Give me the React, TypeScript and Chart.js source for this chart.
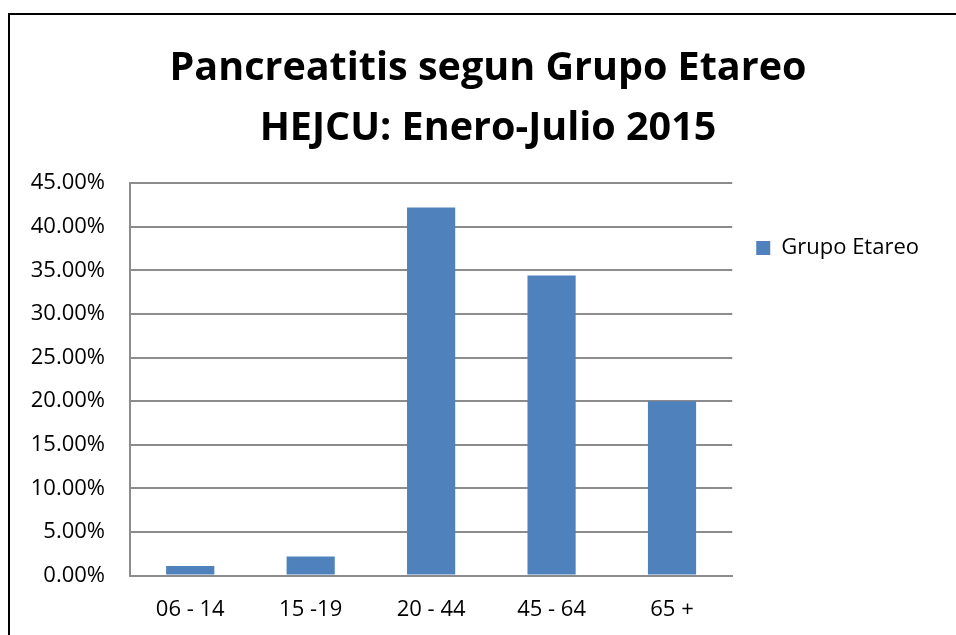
import React, { useEffect, useRef } from "react";
import { Chart, registerables } from "chart.js";

Chart.register(...registerables);

const categories = ["06 - 14", "15 -19", "20 - 44", "45 - 64", "65 +"];
const grupoEtareo = [0.011, 0.022, 0.422, 0.344, 0.2];
const seriesName = "Grupo Etareo";
const titleLines = ["Pancreatitis segun Grupo Etareo", "HEJCU: Enero-Julio 2015"];
const yMax = 0.45;
const yStep = 0.05;

const frame = {
  id: "frame",
  afterLayout(chart: any) {
    // let the y tick labels use the space left of the axis box
    chart.scales.y.left = 0;
  },
  afterDraw(chart: any) {
    const ctx = chart.ctx;
    ctx.save();
    ctx.strokeStyle = "#000";
    ctx.lineWidth = 2;
    ctx.beginPath();
    ctx.moveTo(9, chart.height);
    ctx.lineTo(9, 14);
    ctx.lineTo(chart.width, 14);
    ctx.stroke();
    ctx.restore();
  },
};

export default function App() {
  const ref = useRef<HTMLCanvasElement>(null);
  useEffect(() => {
    const chart = new Chart(ref.current!, {
      type: "bar",
      data: {
        labels: categories,
        datasets: [
          {
            label: seriesName,
            data: grupoEtareo,
            backgroundColor: "#4F81BD",
            borderWidth: 0,
            barPercentage: 0.4,
            categoryPercentage: 1,
          },
        ],
      },
      options: {
        responsive: false,
        animation: false,
        layout: { padding: { left: 47, right: 27, top: 0, bottom: -9 } },
        plugins: {
          title: {
            display: true,
            text: titleLines,
            color: "#000",
            font: { family: "'Open Sans'", size: 39.5, weight: "bold", lineHeight: 1.52 },
            padding: { top: 39, bottom: 24 },
          },
          legend: {
            position: "right",
            align: "start",
            fullSize: false,
            title: { display: true, text: "", font: { size: 10, lineHeight: 1.2 }, padding: { top: 18, bottom: 0 } },
            labels: {
              boxWidth: 14,
              boxHeight: 14,
              padding: 24,
              color: "#000",
              font: { family: "'Open Sans'", size: 22 },
            },
          },
          tooltip: { enabled: false },
        },
        scales: {
          x: {
            grid: { display: false, drawTicks: false },
            border: { display: true, color: "#8c8c8c", width: 2 },
            ticks: { color: "#000", padding: 21, font: { family: "'Open Sans'", size: 22 } },
          },
          y: {
            min: 0,
            max: yMax,
            afterFit: (scale: any) => {
              scale.width = 83;
            },
            grid: { color: "#8c8c8c", lineWidth: 2, drawTicks: false },
            border: { display: true, color: "#8c8c8c", width: 2 },
            ticks: {
              stepSize: yStep,
              color: "#000",
              padding: 25,
              font: { family: "'Open Sans'", size: 22 },
              callback: (v: any) => (Number(v) * 100).toFixed(2) + "%",
            },
          },
        },
      },
      plugins: [frame],
    });
    return () => chart.destroy();
  }, []);
  return (
    <div style={{ position: "fixed", left: 0, top: 0, width: 956, height: 635, background: "#fff", overflow: "hidden" }}>
      <canvas ref={ref} width={956} height={635} style={{ display: "block" }} />
    </div>
  );
}
